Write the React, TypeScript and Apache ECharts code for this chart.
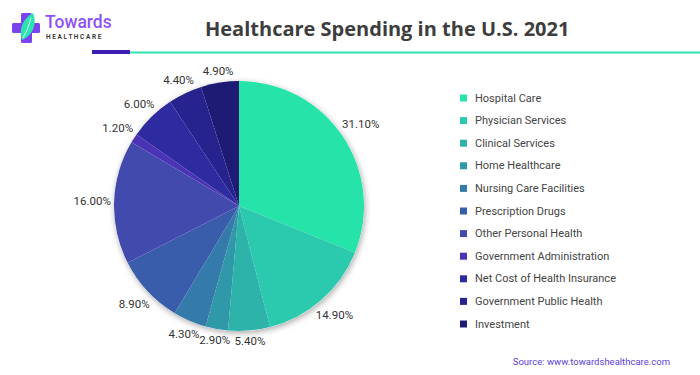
import React, { useEffect, useRef } from "react";
import * as echarts from "echarts";

const categories = [
  "Hospital Care",
  "Physician Services",
  "Clinical Services",
  "Home Healthcare",
  "Nursing Care Facilities",
  "Prescription Drugs",
  "Other Personal Health",
  "Government Administration",
  "Net Cost of Health Insurance",
  "Government Public Health",
  "Investment",
];
const values = [31.1, 14.9, 5.4, 2.9, 4.3, 8.9, 16.0, 1.2, 6.0, 4.4, 4.9];
const colors = [
  "#26e3aa",
  "#2bcaae",
  "#2db3aa",
  "#2f98a9",
  "#347aaa",
  "#3a5dab",
  "#434aae",
  "#4a33b5",
  "#2e2ba0",
  "#26238f",
  "#1d1b73",
];
const titleText = "Healthcare Spending in the U.S. 2021";
const sourceText = "Source: www.towardshealthcare.com";

const CX = 239;
const CY = 206;
const R = 125;
const GAP = 3;

echarts.graphic.registerShape(
  "leaf",
  echarts.graphic.extendPath(
    "M0,27 C-4,15 2,5 11,0 C15,9 12,22 0,27 Z",
    {}
  )
);

export default function App() {
  const ref = useRef<HTMLDivElement>(null);
  useEffect(() => {
    if (!ref.current) return;
    const chart = echarts.init(ref.current, undefined, { renderer: "svg" });
    const total = values.reduce((a, b) => a + b, 0);
    const mids: number[] = [];
    let cum = 0;
    values.forEach((v) => {
      mids.push(((cum + v / 2) / total) * 360);
      cum += v;
    });
    chart.setOption({
      animation: false,
      backgroundColor: "#ffffff",
      title: {
        text: titleText,
        left: 200,
        top: 13,
        textStyle: { fontSize: 20, fontWeight: "bold", color: "#3d3d3d", fontFamily: "Open Sans" },
      },
      legend: {
        orient: "vertical",
        left: 455,
        top: 86,
        itemWidth: 7,
        itemHeight: 7,
        itemGap: 8.6,
        icon: "rect",
        data: categories,
        textStyle: { fontSize: 11, color: "#444", lineHeight: 14, fontFamily: "Roboto", padding: [0, 0, 0, 3] },
      },
      graphic: [
        { type: "rect", shape: { x: 21, y: 13, width: 11, height: 30, r: 1.5 }, style: { fill: "#7b42f0" } },
        { type: "rect", shape: { x: 12, y: 23, width: 28, height: 10, r: 1.5 }, style: { fill: "#7b42f0" } },
        { type: "leaf", x: 22, y: 13, style: { fill: "#2de3b0" } },
        {
          type: "bezierCurve",
          shape: { x1: 23, y1: 38, x2: 31, y2: 18, cpx1: 28, cpy1: 30 },
          style: { stroke: "#ffffff", lineWidth: 0.8, fill: "none" },
        },
        {
          type: "text",
          left: 45,
          top: 12,
          style: { text: "Towards", fontSize: 17.5, lineHeight: 20, fontWeight: 500, fill: "#8c52f7", fontFamily: "Roboto" },
        },
        {
          type: "text",
          left: 46,
          top: 33,
          style: { text: "H E A L T H C A R E", fontSize: 6.5, lineHeight: 7, fontWeight: 600, fill: "#333", fontFamily: "Roboto" },
        },
        { type: "rect", shape: { x: 92, y: 50, width: 38, height: 4 }, style: { fill: "#3b1fb5" } },
        { type: "rect", shape: { x: 130, y: 51.5, width: 570, height: 2 }, style: { fill: "#2ee3b3" } },
        {
          type: "text",
          right: 30,
          top: 356,
          style: { text: sourceText, fontSize: 9.5, fill: "#5b3fd6", fontFamily: "Roboto" },
        },
      ],
      series: [
        {
          type: "pie",
          name: "shadow",
          silent: true,
          center: [CX, CY],
          radius: R,
          label: { show: false },
          labelLine: { show: false },
          data: [{ value: 1, name: "bg" }],
          itemStyle: {
            color: "#ffffff",
            shadowBlur: 6,
            shadowColor: "rgba(0,0,0,0.35)",
            shadowOffsetX: 1,
            shadowOffsetY: 2,
          },
        },
        {
          type: "pie",
          name: "Spending",
          center: [CX, CY],
          radius: R,
          startAngle: 90,
          clockwise: true,
          data: categories.map((c, i) => ({
            name: c,
            value: values[i],
            itemStyle: { color: colors[i] },
          })),
          label: {
            show: true,
            position: "outside",
            formatter: (p: any) => p.value.toFixed(2) + "%",
            fontSize: 11.5,
            color: "#333",
            fontFamily: "Roboto",
          },
          labelLine: { show: false },
          labelLayout: (p: any) => {
            const a = (mids[p.dataIndex] * Math.PI) / 180;
            const s = Math.sin(a);
            const c = Math.cos(a);
            const hw = p.labelRect.width / 2;
            const hh = p.labelRect.height / 2;
            const d = R + GAP + hw * Math.abs(s) + hh * Math.abs(c);
            return { x: CX + d * s, y: CY - d * c, align: "center", verticalAlign: "middle" };
          },
          emphasis: { disabled: true },
        },
      ],
    });
    return () => chart.dispose();
  }, []);
  return (
    <div
      ref={ref}
      style={{ position: "fixed", left: 0, top: 0, width: 700, height: 375 }}
    />
  );
}
